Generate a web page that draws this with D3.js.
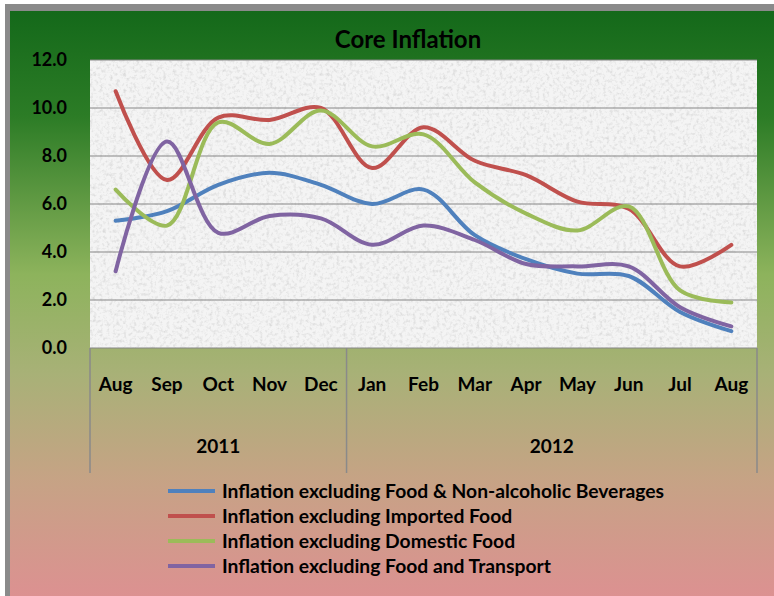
<!DOCTYPE html>
<html><head><meta charset="utf-8">
<script src="https://cdn.jsdelivr.net/npm/d3@7"></script>
<style>
html,body{margin:0;padding:0;background:#fff;}
svg{display:block;}
text{font-family:Lato,"Open Sans",sans-serif;font-weight:bold;fill:#000;}
</style></head>
<body>
<script>
const months = ["Aug","Sep","Oct","Nov","Dec","Jan","Feb","Mar","Apr","May","Jun","Jul","Aug"];
const years = [{label:"2011", from:0, to:4},{label:"2012", from:5, to:12}];
const yTicks = [0,2,4,6,8,10,12];
const seriesNames = [
  "Inflation excluding Food & Non-alcoholic Beverages",
  "Inflation excluding Imported Food",
  "Inflation excluding Domestic Food",
  "Inflation excluding Food and Transport"
];
const exFoodBev   = [5.3,5.7,6.8,7.3,6.8,6.0,6.6,4.7,3.7,3.1,3.0,1.5,0.7];
const exImported  = [10.7,7.0,9.6,9.5,10.0,7.5,9.2,7.8,7.2,6.1,5.8,3.4,4.3];
const exDomestic  = [6.6,5.1,9.4,8.5,9.9,8.4,8.9,6.9,5.6,4.9,5.9,2.4,1.9];
const exTransport = [3.2,8.6,4.8,5.5,5.4,4.3,5.1,4.5,3.5,3.4,3.4,1.7,0.9];
const seriesValues = [exFoodBev, exImported, exDomestic, exTransport];
const colors = ["#4F81BD","#C0504D","#9BBB59","#8064A2"];

(function(){
const W = 774, H = 596;
const svg = d3.select("body").append("svg").attr("width", W).attr("height", H);
const defs = svg.append("defs");
const grad = defs.append("linearGradient").attr("id","bg").attr("x1",0).attr("y1",0).attr("x2",0).attr("y2",1);
[[0,"#14691a"],[0.18,"#2c7c26"],[0.45,"#8db35c"],[0.62,"#a8b177"],[0.8,"#c6a385"],[1,"#dc9191"]]
  .forEach(([o,c]) => grad.append("stop").attr("offset",o).attr("stop-color",c));
const f = defs.append("filter").attr("id","noise").attr("x",0).attr("y",0).attr("width","100%").attr("height","100%");
f.append("feTurbulence").attr("type","fractalNoise").attr("baseFrequency",0.3).attr("numOctaves",3).attr("seed",4).attr("result","t");
f.append("feColorMatrix").attr("in","t").attr("type","matrix")
  .attr("values","0 0 0 0 0.6  0 0 0 0 0.6  0 0 0 0 0.6  1.5 0 0 0 -0.7");

// frame
svg.append("rect").attr("x",5).attr("y",4).attr("width",W-5).attr("height",H-4).attr("fill","#8a8a8a");
svg.append("rect").attr("x",10).attr("y",11).attr("width",W-10).attr("height",H-11).attr("fill","url(#bg)");

const pL = 90, pR = 757, pT = 60, pB = 348;
const x = d3.scaleBand().domain(d3.range(months.length)).range([pL,pR]);
const y = d3.scaleLinear().domain([0,12]).range([pB,pT]);

// plot background
svg.append("rect").attr("x",pL).attr("y",pT).attr("width",pR-pL).attr("height",pB-pT).attr("fill","#f4f4f4");
svg.append("rect").attr("x",pL).attr("y",pT).attr("width",pR-pL).attr("height",pB-pT).attr("fill","#fff").attr("filter","url(#noise)");

// gridlines
svg.append("g").selectAll("line").data(yTicks).join("line")
  .attr("x1",pL).attr("x2",pR).attr("y1",d=>y(d)).attr("y2",d=>y(d))
  .attr("stroke","#868686").attr("stroke-width",1.2);

// y axis
const yAxis = svg.append("g").attr("transform",`translate(${pL-23},0)`)
  .call(d3.axisLeft(y).tickValues(yTicks).tickFormat(d3.format(".1f")).tickSize(0).tickPadding(0));
yAxis.select(".domain").remove();
yAxis.selectAll("text").style("font-size","18px").style("font-family","Lato").style("font-weight","bold").attr("fill","#000");

// x axis (months)
const xAxis = svg.append("g").attr("transform",`translate(0,${pB})`)
  .call(d3.axisBottom(x).tickFormat(i=>months[i]).tickSize(0).tickPadding(30));
xAxis.select(".domain").remove();
xAxis.selectAll("text").style("font-size","19px").style("font-family","Lato").style("font-weight","bold").attr("fill","#000");

// year separators and labels
const sepX = [pL, x(years[1].from), pR];
svg.append("g").selectAll("line").data(sepX).join("line")
  .attr("x1",d=>d).attr("x2",d=>d).attr("y1",pB).attr("y2",473)
  .attr("stroke","#8a8a8a").attr("stroke-width",1.5);
svg.append("g").selectAll("text").data(years).join("text")
  .attr("x",d=>(x(d.from)+x(d.to)+x.bandwidth())/2).attr("y",453)
  .attr("text-anchor","middle").style("font-size","19px").text(d=>d.label);

// lines
const line = d3.line().x((d,i)=>x(i)+x.bandwidth()/2).y(d=>y(d)).curve(d3.curveCatmullRom.alpha(0.5));
svg.append("g").selectAll("path").data(seriesValues).join("path")
  .attr("d",line).attr("fill","none").attr("stroke",(d,i)=>colors[i])
  .attr("stroke-width",4).attr("stroke-linecap","round").attr("stroke-linejoin","round");

// title
svg.append("text").attr("x",408).attr("y",48).attr("text-anchor","middle").style("font-size","24px").text("Core Inflation");

// legend
const lg = svg.append("g").selectAll("g").data(seriesNames).join("g")
  .attr("transform",(d,i)=>`translate(0,${491+i*25})`);
lg.append("line").attr("x1",168).attr("x2",215).attr("y1",0).attr("y2",0)
  .attr("stroke",(d,i)=>colors[i]).attr("stroke-width",4);
lg.append("text").attr("x",222).attr("y",7).style("font-size","19.3px").text(d=>d);
})();
</script>
</body></html>
